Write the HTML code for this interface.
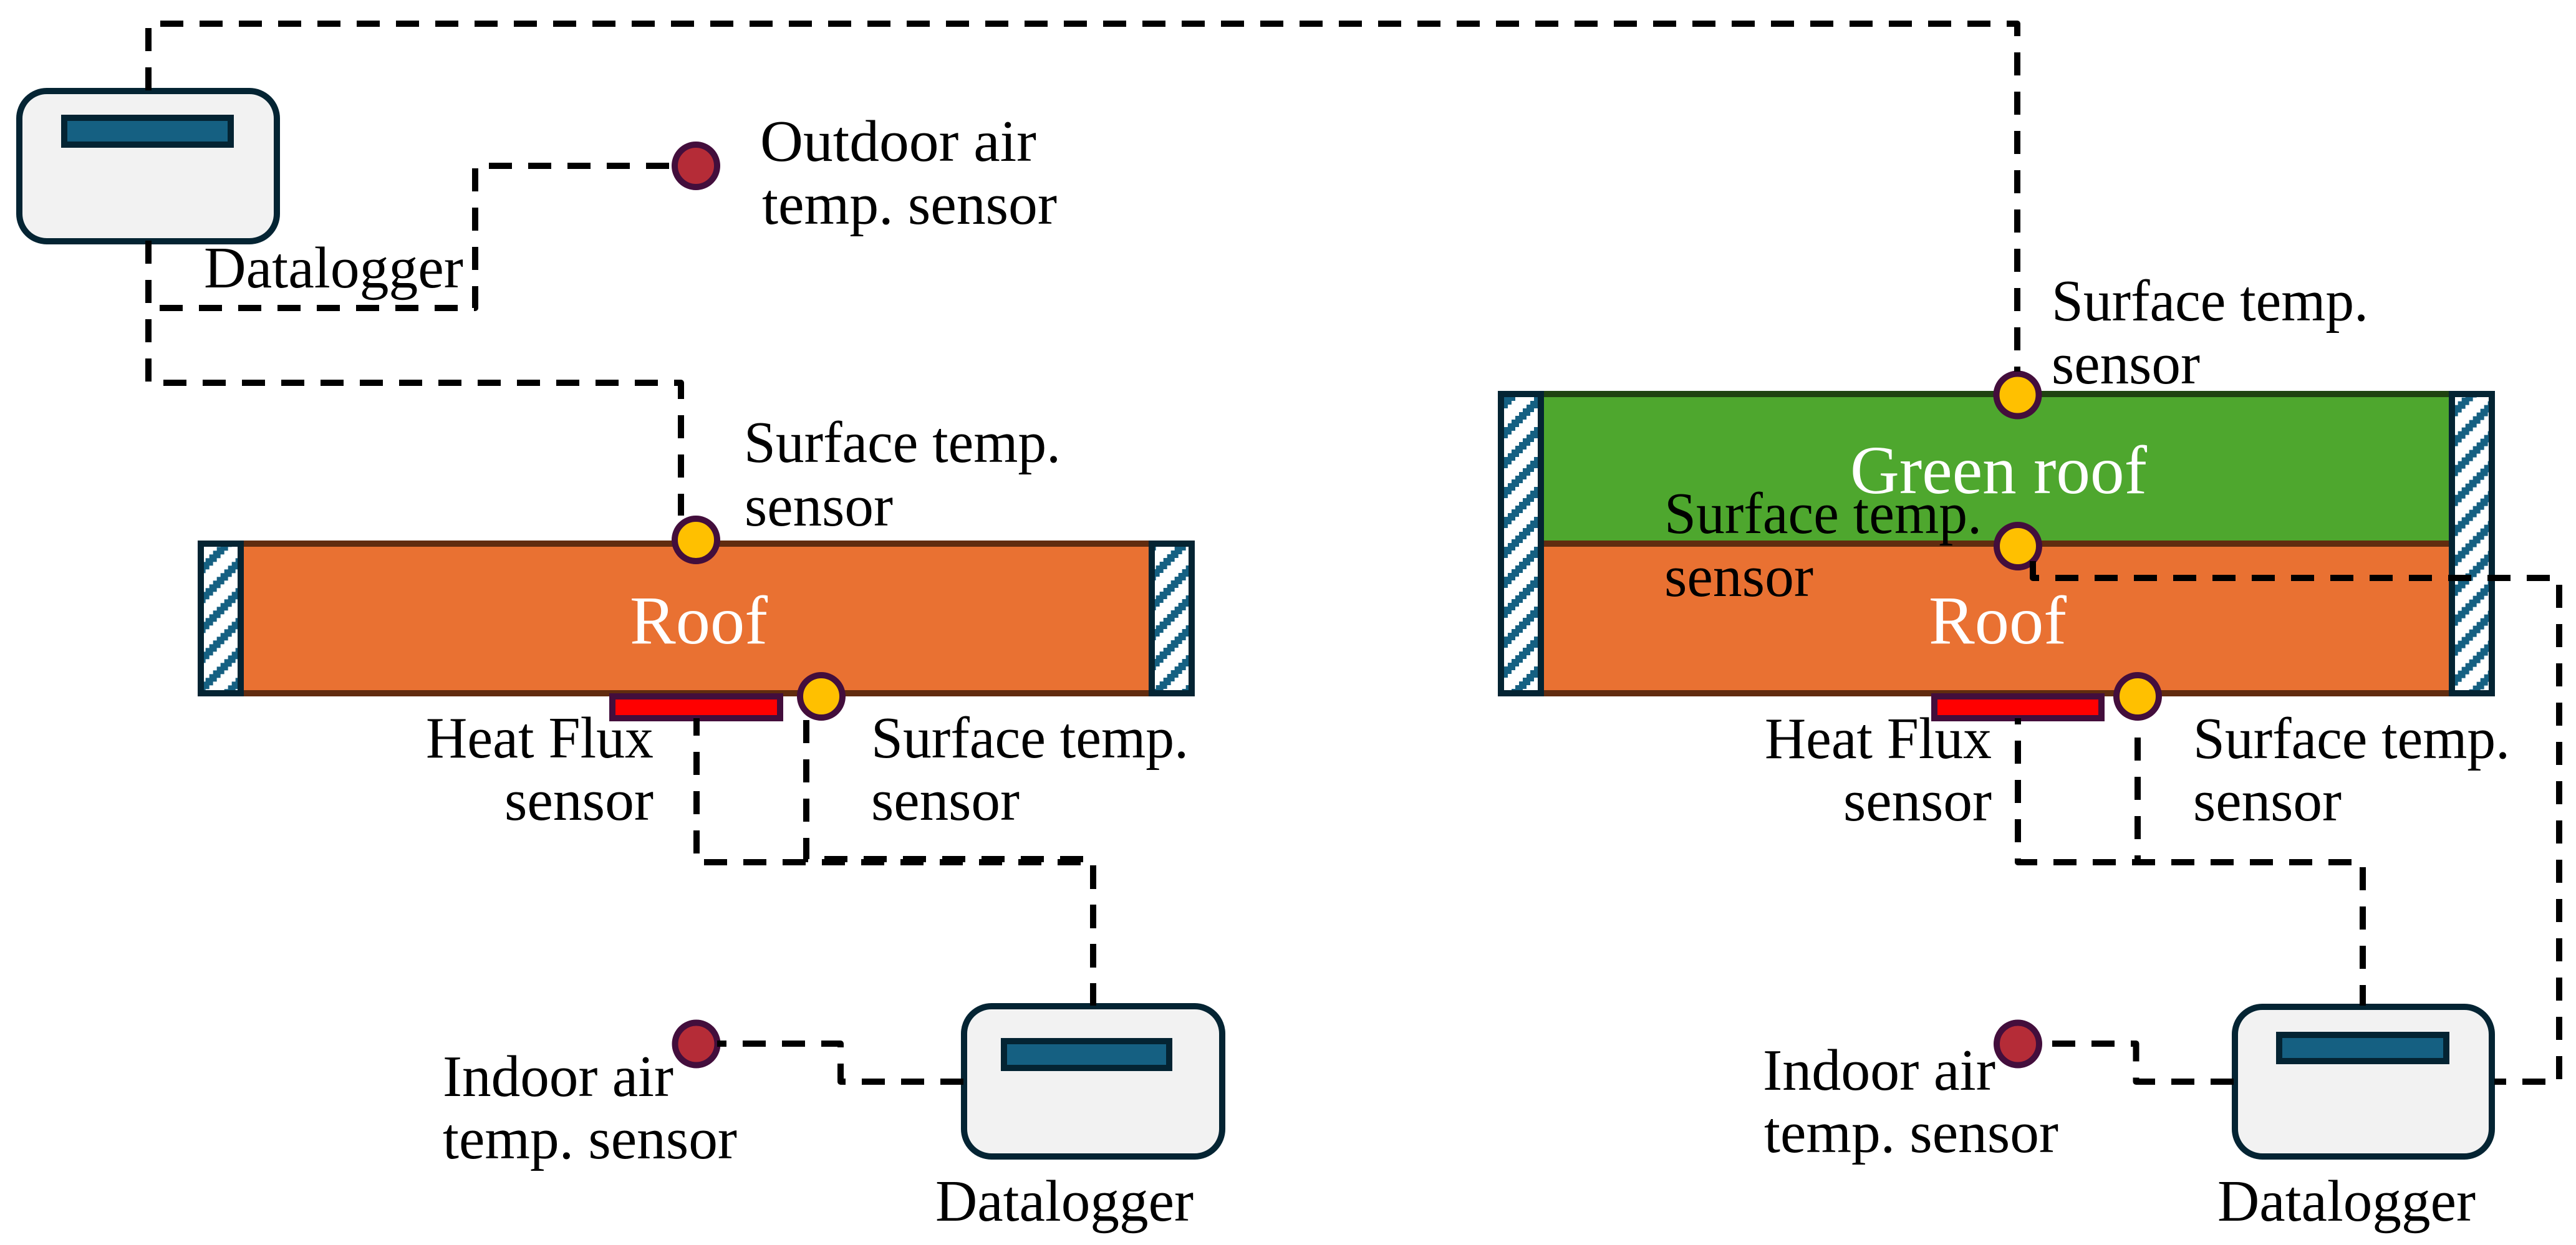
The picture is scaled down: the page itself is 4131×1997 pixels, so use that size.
<!DOCTYPE html>
<html><head><meta charset="utf-8"><style>
html,body{margin:0;padding:0;background:#fff;width:4131px;height:1997px;overflow:hidden}
svg{display:block}
text{font-family:"Liberation Serif",serif;font-size:94px;fill:#000}
.w{font-size:110px;fill:#fff}
.d{fill:none;stroke:#000;stroke-width:10;stroke-dasharray:37 26;stroke-linejoin:round}
.wall{stroke:#042433;stroke-width:10}
.dl{fill:#f2f2f2;stroke:#042433;stroke-width:10}
.sc{fill:#156082;stroke:#042433;stroke-width:10}
.hf{fill:#ff0000;stroke:#430e3c;stroke-width:10}
.y{fill:#ffc000;stroke:#430e3c;stroke-width:10}
.r{fill:#b52c37;stroke:#430e3c;stroke-width:10}
</style></head><body>
<svg xmlns="http://www.w3.org/2000/svg" width="4131" height="1997" viewBox="0 0 4131 1997">
<defs>
<g id="hatch" fill="#156082" shape-rendering="crispEdges">
<rect x="0" y="0" width="48" height="48" fill="#fff"/>
<rect x="24" y="0" width="18" height="6"/>
<rect x="18" y="6" width="18" height="6"/>
<rect x="12" y="12" width="18" height="6"/>
<rect x="6" y="18" width="18" height="6"/>
<rect x="0" y="24" width="18" height="6"/>
<rect x="0" y="30" width="12" height="6"/><rect x="42" y="30" width="6" height="6"/>
<rect x="0" y="36" width="6" height="6"/><rect x="36" y="36" width="12" height="6"/>
<rect x="30" y="42" width="18" height="6"/>
</g>
<pattern id="pL1" patternUnits="userSpaceOnUse" x="323.67" y="877.33" width="48" height="48"><use href="#hatch"/></pattern>
<pattern id="pR1" patternUnits="userSpaceOnUse" x="1859.67" y="877" width="48" height="48"><use href="#hatch"/></pattern>
<pattern id="pL2" patternUnits="userSpaceOnUse" x="2388" y="637" width="48" height="48"><use href="#hatch"/></pattern>
<pattern id="pR2" patternUnits="userSpaceOnUse" x="3923.67" y="637.67" width="48" height="48"><use href="#hatch"/></pattern>
</defs>

<!-- Left roof -->
<rect x="386" y="872" width="1461" height="240" fill="#e97132" stroke="#612c0f" stroke-width="10"/>
<rect class="wall" x="322" y="872" width="64" height="240" fill="url(#pL1)"/>
<rect class="wall" x="1847" y="872" width="64" height="240" fill="url(#pR1)"/>

<!-- Right roof -->
<rect x="2471" y="632" width="1461" height="240" fill="#4ea72e" stroke="#1f4311" stroke-width="10"/>
<rect x="2471" y="872" width="1461" height="240" fill="#e97132" stroke="#612c0f" stroke-width="10"/>
<rect class="wall" x="2407" y="632" width="64" height="480" fill="url(#pL2)"/>
<rect class="wall" x="3932" y="632" width="64" height="480" fill="url(#pR2)"/>

<!-- Heat flux sensors -->
<rect class="hf" x="982" y="1117" width="269" height="35"/>
<rect class="hf" x="3102" y="1117" width="268" height="35"/>

<!-- Dataloggers -->
<rect class="dl" x="31" y="146" width="413" height="241" rx="44"/>
<rect class="sc" x="103" y="189" width="267" height="43"/>
<rect class="dl" x="1546" y="1614" width="414" height="241" rx="44"/>
<rect class="sc" x="1610" y="1670" width="265" height="43"/>
<rect class="dl" x="3584" y="1615" width="412" height="240" rx="44"/>
<rect class="sc" x="3655" y="1660" width="268" height="42"/>

<!-- Sensors -->
<circle class="r" cx="1116" cy="266" r="34"/>
<circle class="y" cx="1116" cy="866" r="34"/>
<circle class="y" cx="1317" cy="1117" r="34"/>
<circle class="r" cx="1116.5" cy="1674.5" r="34"/>
<circle class="y" cx="3235.5" cy="633.5" r="34"/>
<circle class="y" cx="3236" cy="876" r="34"/>
<circle class="y" cx="3428" cy="1117" r="34"/>
<circle class="r" cx="3236" cy="1674.5" r="34"/>

<!-- Connectors -->
<path class="d" d="M238,145 V38 H3235 V596"/>
<path class="d" d="M238,386 V494 H762 V266 H1074"/>
<path class="d" d="M238,386 V614 H1092 V827"/>
<path class="d" d="M1117,1152 V1383 H1753 V1613" stroke-dashoffset="9"/>
<path class="d" d="M1293,1155 V1378 H1753 V1613"/>
<path class="d" d="M1150,1674 H1348 V1735 H1546" stroke-dashoffset="22"/>
<path class="d" d="M3236,1152 V1383 H3789 V1613" stroke-dashoffset="27"/>
<path class="d" d="M3428,1157 V1383" stroke-dashoffset="37"/>
<path class="d" d="M3273,1674 H3425.5 V1735 H3584" stroke-dashoffset="45"/>
<path class="d" d="M3260,900 V927 H4104 V1735 H4000"/>

<!-- Labels -->
<g transform="translate(-2,4)">
<text x="1221" y="254" textLength="443" lengthAdjust="spacingAndGlyphs">Outdoor air</text>
<text x="1224" y="355" textLength="473" lengthAdjust="spacingAndGlyphs">temp. sensor</text>
<text x="329" y="457" textLength="416" lengthAdjust="spacingAndGlyphs">Datalogger</text>
<text x="1195" y="737" textLength="508" lengthAdjust="spacingAndGlyphs">Surface temp.</text>
<text x="1196" y="839" textLength="238" lengthAdjust="spacingAndGlyphs">sensor</text>
<text class="w" x="1012" y="1028" textLength="221" lengthAdjust="spacingAndGlyphs">Roof</text>
<text x="685" y="1211" textLength="365" lengthAdjust="spacingAndGlyphs">Heat Flux</text>
<text x="811" y="1311" textLength="239" lengthAdjust="spacingAndGlyphs">sensor</text>
<text x="1399" y="1211" textLength="509" lengthAdjust="spacingAndGlyphs">Surface temp.</text>
<text x="1399" y="1311" textLength="238" lengthAdjust="spacingAndGlyphs">sensor</text>
<text x="712" y="1754" textLength="370" lengthAdjust="spacingAndGlyphs">Indoor air</text>
<text x="712" y="1854" textLength="472" lengthAdjust="spacingAndGlyphs">temp. sensor</text>
<text x="1502" y="1954" textLength="414" lengthAdjust="spacingAndGlyphs">Datalogger</text>

<text x="3292" y="510" textLength="508" lengthAdjust="spacingAndGlyphs">Surface temp.</text>
<text x="3292" y="611" textLength="238" lengthAdjust="spacingAndGlyphs">sensor</text>
<text class="w" x="2969" y="787" textLength="476" lengthAdjust="spacingAndGlyphs">Green roof</text>
<text x="2671" y="851" textLength="509" lengthAdjust="spacingAndGlyphs">Surface temp.</text>
<text x="2671" y="952" textLength="239" lengthAdjust="spacingAndGlyphs">sensor</text>
<text class="w" x="3095" y="1028" textLength="221" lengthAdjust="spacingAndGlyphs">Roof</text>
<text x="2832" y="1212" textLength="364" lengthAdjust="spacingAndGlyphs">Heat Flux</text>
<text x="2958" y="1312" textLength="238" lengthAdjust="spacingAndGlyphs">sensor</text>
<text x="3519" y="1212" textLength="508" lengthAdjust="spacingAndGlyphs">Surface temp.</text>
<text x="3519" y="1312" textLength="238" lengthAdjust="spacingAndGlyphs">sensor</text>
<text x="2829" y="1744" textLength="373" lengthAdjust="spacingAndGlyphs">Indoor air</text>
<text x="2831" y="1844" textLength="472" lengthAdjust="spacingAndGlyphs">temp. sensor</text>
<text x="3558" y="1954" textLength="414" lengthAdjust="spacingAndGlyphs">Datalogger</text>
</g>
</svg>
</body></html>
